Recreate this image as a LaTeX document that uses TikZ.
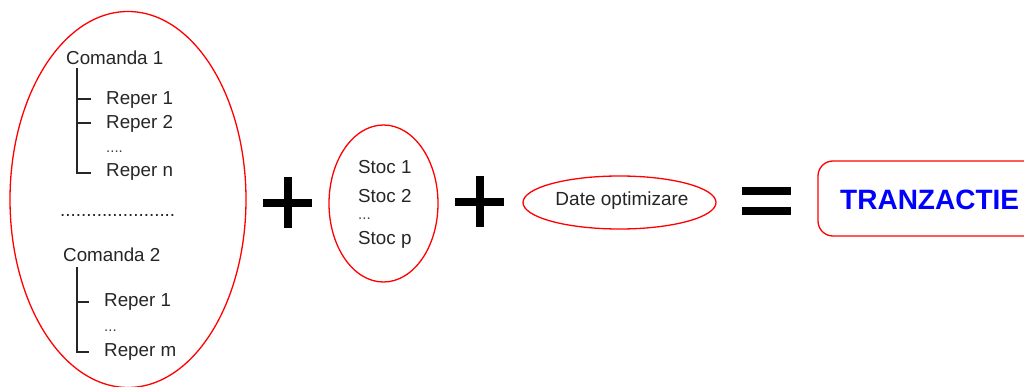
\documentclass[tikz,border=0pt]{standalone}
\usepackage{fontspec}
\setmainfont{Liberation Sans}
\usetikzlibrary{shapes.geometric}
\begin{document}
\begin{tikzpicture}[x=1pt,y=-1pt,
  redring/.style={draw=red,line width=1.3pt},
  txt/.style={inner sep=0pt,anchor=west,font=\fontsize{18.8}{20}\selectfont,text=black!85},
  dots/.style={inner sep=0pt,anchor=west,font=\fontsize{15}{16}\selectfont,text=black!75},
  treeline/.style={draw=black!85,line width=1.4pt},
  opbar/.style={draw=black,line width=8pt},
]
\useasboundingbox (0,0) rectangle (1024,387);
\fill[white] (0,0) rectangle (1024,387);
\begin{scope}
\clip (0,0) rectangle (1024,387);
% left ellipse
\node[redring,ellipse,minimum width=236pt,minimum height=376pt,inner sep=0pt] (e1) at (128,199.5) {};
% order 1
\node[txt] (c1) at (66,58) {Comanda 1};
\node[txt] (r11) at (106,100) {Reper 1};
\node[txt] (r12) at (106,124) {Reper 2};
\node[dots] (r1d) at (106,152) {....};
\node[txt] (r1n) at (106,172) {Reper n};
\coordinate (t1top) at (77,68);
\coordinate (t1a) at (77,99);
\coordinate (t1b) at (77,123);
\coordinate (t1c) at (77,173);
\coordinate (t1ae) at (91,99);
\coordinate (t1be) at (91,123);
\coordinate (t1ce) at (91,173);
\draw[treeline] (t1top) -- (t1c) -- (t1ce);
\draw[treeline] (t1a) -- (t1ae);
\draw[treeline] (t1b) -- (t1be);
% separator
\node[txt] (sep) at (60,215) {......................};
% order 2
\node[txt] (c2) at (63,255) {Comanda 2};
\node[txt] (r21) at (104,302) {Reper 1};
\node[dots] (r2d) at (104,331) {...};
\node[txt] (r2m) at (104,352) {Reper m};
\coordinate (t2top) at (77,267);
\coordinate (t2a) at (77,302);
\coordinate (t2b) at (77,352);
\coordinate (t2ae) at (89,302);
\coordinate (t2be) at (89,352);
\draw[treeline] (t2top) -- (t2b) -- (t2be);
\draw[treeline] (t2a) -- (t2ae);
% plus 1
\coordinate (p1l) at (263,203);
\coordinate (p1r) at (312,203);
\coordinate (p1t) at (288,177);
\coordinate (p1b) at (288,228);
\draw[opbar] (p1l) -- (p1r);
\draw[opbar] (p1t) -- (p1b);
% stock ellipse
\node[redring,ellipse,minimum width=109pt,minimum height=157pt,inner sep=0pt] (e2) at (383.5,203.5) {};
\node[txt] (s1) at (358,167) {Stoc 1};
\node[txt] (s2) at (358,196) {Stoc 2};
\node[dots] (sd) at (358,219) {...};
\node[txt] (sp) at (358,240) {Stoc p};
% plus 2
\coordinate (p2l) at (455,202);
\coordinate (p2r) at (504,202);
\coordinate (p2t) at (480,176);
\coordinate (p2b) at (480,227);
\draw[opbar] (p2l) -- (p2r);
\draw[opbar] (p2t) -- (p2b);
% optimisation ellipse
\node[redring,ellipse,minimum width=193pt,minimum height=53pt,inner sep=0pt] (e3) at (619.5,202.5) {};
\node[inner sep=0pt,font=\fontsize{19}{20}\selectfont,text=black!85] (opt) at (622,201) {Date optimizare};
% equals
\coordinate (q1l) at (742,191);
\coordinate (q1r) at (791,191);
\coordinate (q2l) at (742,211.5);
\coordinate (q2r) at (791,211.5);
\draw[opbar] (q1l) -- (q1r);
\draw[opbar] (q2l) -- (q2r);
% result box
\node[redring,rounded corners=15pt,minimum width=260pt,minimum height=75pt,inner sep=0pt] (box) at (948,198.5) {};
\node[anchor=west,inner sep=0pt,font=\fontsize{28}{30}\selectfont\bfseries,text=blue] (tr) at (840,200) {TRANZACTIE};
\end{scope}
\end{tikzpicture}
\end{document}
